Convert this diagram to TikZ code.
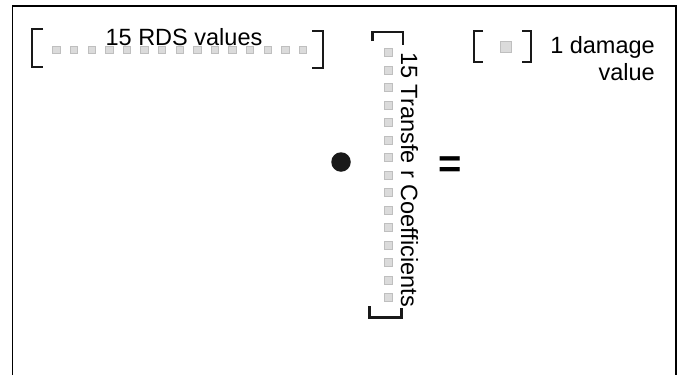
\documentclass[tikz,border=0pt]{standalone}
\usepackage{fontspec}
\setmainfont{Liberation Sans}
\begin{document}
\begin{tikzpicture}[x=1pt,y=-1pt,
  cell/.style={draw=gray!50, fill=gray!28, line width=0.8pt, minimum size=7.5pt, inner sep=0pt},
  brk/.style={line width=2.2pt, line cap=butt, line join=miter, draw=black!90},
  lbl/.style={font=\fontsize{23.5}{27}\selectfont, inner sep=0pt}]
\useasboundingbox (0,0) rectangle (685,375);
% open frame
\draw[line width=1.6pt] (12.5,375) -- (12.5,5.8) -- (676,5.8) -- (676,375);

% row vector of 15 values
\foreach \i in {0,...,14} \node[cell] (r\i) at ({56.5+17.6*\i},50) {};
\draw[brk] (43,29) -- (32,29) -- (32,67) -- (43,67);
\draw[brk] (312,31) -- (323,31) -- (323,68) -- (312,68);
\node[lbl, anchor=base] (rowlabel) at (184,45) {15 RDS values};

% product sign
\node[circle, fill=black!90, minimum size=19.5pt, inner sep=0pt] (dot) at (341,162) {};

% column vector of 15 coefficients
\foreach \i in {0,...,14} \node[cell, minimum size=8pt] (c\i) at (388.5,{52.5+17.5*\i}) {};
\draw[brk] (372.5,41) -- (372.5,32) -- (403,32) -- (403,45);
\draw[brk] (369.5,306) -- (369.5,317.5) -- (401.5,317.5) -- (401.5,308);
\node[lbl, rotate=-90, anchor=base west] (collabel) at (401,52) {15 Transfe r Coefficients};

% equals sign
\node[font=\fontsize{40}{42}\selectfont\bfseries, inner sep=0pt] (eq) at (450,167) {=};

% single result value
\node[cell, minimum size=11pt] (s0) at (506,47) {};
\draw[brk] (483,31) -- (474,31) -- (474,62) -- (483,62);
\draw[brk] (522,31) -- (531,31) -- (531,62) -- (522,62);
\node[lbl, align=right, anchor=base east] (scalarlabel) at (655,80) {1 damage\\value};
\end{tikzpicture}
\end{document}
